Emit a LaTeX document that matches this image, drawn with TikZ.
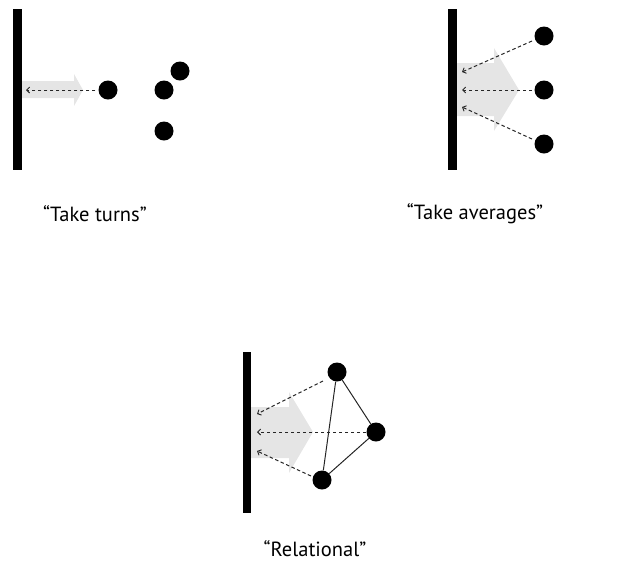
\documentclass[tikz,border=0pt]{standalone}
\usepackage{fontspec}
\setmainfont{PT Sans}
\usetikzlibrary{arrows.meta}
\begin{document}
\begin{tikzpicture}[x=1pt,y=-1pt,
  dot/.style={circle,fill=black,inner sep=0pt,minimum size=19pt},
  wall/.style={fill=black,draw=none},
  fat/.style={fill=black!10,draw=none},
  dasharrow/.style={draw=black!85,line width=1pt,dash pattern=on 3.5pt off 2.5pt,-{Straight Barb[length=3pt,width=6pt,line width=0.9pt]}},
  link/.style={draw=black!85,line width=1pt},
  lab/.style={font=\fontsize{20.5}{24}\selectfont}]
\useasboundingbox (0,0) rectangle (618,566);
% ---------- panel 1 ----------
\fill[fat] (22,81) -- (74,81) -- (74,74) -- (83,90) -- (74,106) -- (74,98) -- (22,98) -- cycle;
\node[wall,minimum width=9pt,minimum height=161pt,inner sep=0pt] (w1) at (17.5,89.5) {};
\node[dot] (a1) at (108,90) {};
\node[dot] (a2) at (164,90) {};
\node[dot] (a3) at (180,71) {};
\node[dot] (a4) at (164,131) {};
\coordinate (e1) at (26,90);
\draw[dasharrow] (a1.west) ++(-3,0) -- (e1);
\node[lab] (t1) at (95,214) {“Take turns”};
% ---------- panel 2 ----------
\fill[fat] (457,63) -- (494,63) -- (494,48) -- (519,90) -- (494,131) -- (494,116) -- (457,116) -- cycle;
\node[wall,minimum width=9pt,minimum height=161pt,inner sep=0pt] (w2) at (452.5,89.5) {};
\node[dot] (b1) at (544,36) {};
\node[dot] (b2) at (544,90) {};
\node[dot] (b3) at (544,144) {};
\coordinate (f1) at (462,72);
\coordinate (f2) at (462,90);
\coordinate (f3) at (462,107);
\coordinate (g1) at (532,41);
\coordinate (g2) at (532,90);
\coordinate (g3) at (532,139);
\draw[dasharrow] (g1) -- (f1);
\draw[dasharrow] (g2) -- (f2);
\draw[dasharrow] (g3) -- (f3);
\node[lab] (t2) at (475,214) {“Take averages”};
% ---------- panel 3 ----------
\fill[fat] (251,407) -- (289,407) -- (289,392) -- (313,432) -- (289,473) -- (289,458) -- (251,458) -- cycle;
\node[wall,minimum width=8.5pt,minimum height=161pt,inner sep=0pt] (w3) at (247,432.5) {};
\node[dot] (c1) at (337,372) {};
\node[dot] (c2) at (376,432) {};
\node[dot] (c3) at (322,480) {};
\draw[link] (c1) -- (c3);
\draw[link] (c1) -- (c2);
\draw[link] (c2) -- (c3);
\coordinate (h1) at (257,414);
\coordinate (h2) at (257,432);
\coordinate (h3) at (257,451);
\coordinate (k1) at (323,381);
\coordinate (k2) at (366,432);
\coordinate (k3) at (311,476);
\draw[dasharrow] (k1) -- (h1);
\draw[dasharrow] (k2) -- (h2);
\draw[dasharrow] (k3) -- (h3);
\node[lab] (t3) at (315,549) {“Relational”};
\end{tikzpicture}
\end{document}
